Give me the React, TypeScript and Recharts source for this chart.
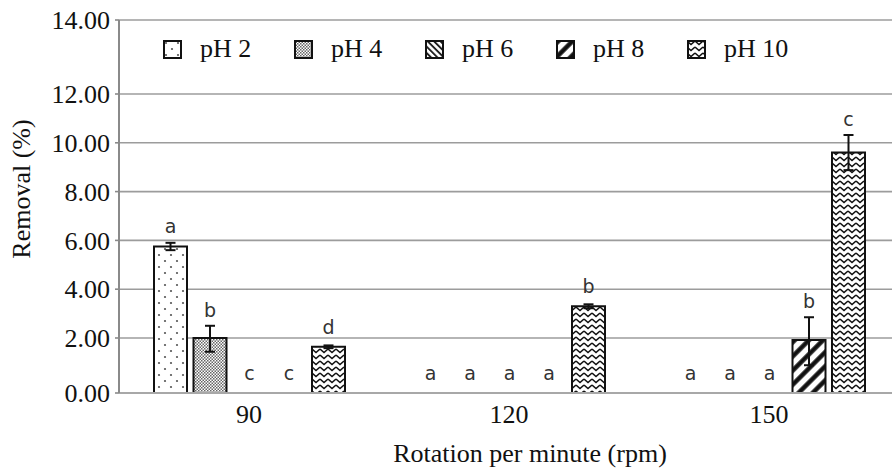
import React from 'react';
import { BarChart, Bar, XAxis, YAxis, CartesianGrid, ErrorBar, LabelList, Legend } from 'recharts';

// ---- data ----
const rpm = ['90', '120', '150'];
const ph2 = [5.75, 0, 0];
const ph2Sd = [0.15, 0, 0];
const ph2Letter = ['a', 'a', 'a'];
const ph4 = [2.0, 0, 0];
const ph4Sd = [0.5, 0, 0];
const ph4Letter = ['b', 'a', 'a'];
const ph6 = [0, 0, 0];
const ph6Sd = [0, 0, 0];
const ph6Letter = ['c', 'a', 'a'];
const ph8 = [0, 0, 1.93];
const ph8Sd = [0, 0, 0.92];
const ph8Letter = ['c', 'a', 'b'];
const ph10 = [1.68, 3.3, 9.6];
const ph10Sd = [0.05, 0.08, 0.72];
const ph10Letter = ['d', 'b', 'c'];
const yTicks = [0, 2, 4, 6, 8, 10, 12, 14];

// The reference's value axis is drawn with uneven spacing: 0-2 and 12-14 are stretched.
const yBreakValues = [0, 2, 12, 14];
const yBreakFractions = [0, 0.1475, 0.8016, 1];

const seriesNames = ['pH 2', 'pH 4', 'pH 6', 'pH 8', 'pH 10'];
const seriesValues = [ph2, ph4, ph6, ph8, ph10];
const seriesSds = [ph2Sd, ph4Sd, ph6Sd, ph8Sd, ph10Sd];
const seriesLetters = [ph2Letter, ph4Letter, ph6Letter, ph8Letter, ph10Letter];
const seriesPatterns = ['patDots', 'patStipple', 'patBack', 'patFwd', 'patZig'];

// Each series: a visible bar (mean) and, stacked on it, an invisible bar of height sd.
// The error bar hangs from the invisible bar's top (mean + sd) down to mean - sd.
const data = rpm.map((r, i) => {
  const row: Record<string, any> = { rpm: r };
  seriesNames.forEach((_, s) => {
    const sd = seriesSds[s][i];
    row[`v${s}`] = seriesValues[s][i];
    row[`sd${s}`] = sd;
    row[`err${s}`] = [2 * sd, 0];
    row[`l${s}`] = seriesLetters[s][i];
  });
  return row;
});

function brokenFraction(v: number): number {
  const n = yBreakValues.length;
  let i = 0;
  if (v >= yBreakValues[n - 1]) i = n - 2;
  else {
    while (i < n - 2 && v > yBreakValues[i + 1]) i++;
  }
  const v0 = yBreakValues[i], v1 = yBreakValues[i + 1];
  const f0 = yBreakFractions[i], f1 = yBreakFractions[i + 1];
  return f0 + ((v - v0) / (v1 - v0)) * (f1 - f0);
}

function makeBrokenScale(dom: number[] = [0, 14], rng: number[] = [0, 1]): any {
  let d = dom.slice();
  let r = rng.slice();
  const scale: any = (v: number) => r[0] + (r[1] - r[0]) * brokenFraction(Number(v));
  scale.domain = (x?: number[]) => {
    if (x === undefined) return d.slice();
    d = x.slice();
    return scale;
  };
  scale.range = (x?: number[]) => {
    if (x === undefined) return r.slice();
    r = x.slice();
    return scale;
  };
  scale.copy = () => makeBrokenScale(d, r);
  scale.ticks = () => yTicks.slice();
  scale.tickFormat = () => (v: number) => String(v);
  scale.nice = () => scale;
  scale.clamp = () => scale;
  scale.invert = (px: number) => {
    const f = (px - r[0]) / (r[1] - r[0]);
    const n = yBreakValues.length;
    for (let i = 0; i < n - 1; i++) {
      if (f <= yBreakFractions[i + 1] || i === n - 2) {
        const t = (f - yBreakFractions[i]) / (yBreakFractions[i + 1] - yBreakFractions[i]);
        return yBreakValues[i] + t * (yBreakValues[i + 1] - yBreakValues[i]);
      }
    }
    return 0;
  };
  return scale;
}

const yScale = makeBrokenScale();

const SERIF = '"Liberation Serif", "Times New Roman", serif';
const SANS = '"DejaVu Sans", Verdana, sans-serif';

function Patterns() {
  return (
    <defs>
      <pattern id="patDots" width="12" height="12" patternUnits="userSpaceOnUse">
        <rect width="12" height="12" fill="#fff" />
        <circle cx="3" cy="3" r="1.1" fill="#555" />
        <circle cx="9" cy="9" r="1.1" fill="#555" />
      </pattern>
      <pattern id="patStipple" width="3" height="3" patternUnits="userSpaceOnUse">
        <rect width="3" height="3" fill="#fff" />
        <rect x="0" y="0" width="1.5" height="1.5" fill="#666" />
        <rect x="1.5" y="1.5" width="1.5" height="1.5" fill="#666" />
      </pattern>
      <pattern id="patBack" width="4.5" height="4.5" patternUnits="userSpaceOnUse" patternTransform="rotate(-45)">
        <rect width="4.5" height="4.5" fill="#fff" />
        <line x1="1" y1="0" x2="1" y2="4.5" stroke="#111" strokeWidth="1.8" />
      </pattern>
      <pattern id="patFwd" width="10" height="10" patternUnits="userSpaceOnUse" patternTransform="rotate(45)">
        <rect width="10" height="10" fill="#fff" />
        <line x1="2.5" y1="0" x2="2.5" y2="10" stroke="#111" strokeWidth="4.5" />
      </pattern>
      <pattern id="patZig" width="8" height="6" patternUnits="userSpaceOnUse">
        <rect width="8" height="6" fill="#fff" />
        <path d="M0 1 L4 4.5 L8 1" fill="none" stroke="#111" strokeWidth="1.6" />
      </pattern>
    </defs>
  );
}

function LegendContent() {
  return (
    <div style={{ position: 'relative', height: 0, width: 0 }}>
      <div style={{ position: 'absolute', left: 163, top: 34, display: 'flex', whiteSpace: 'nowrap' }}>
        {seriesNames.map((name, s) => (
          <div key={name} style={{ width: 131, height: 30, display: 'flex', alignItems: 'center' }}>
            <svg width={19} height={19} style={{ display: 'block' }}>
              <rect x={1} y={1} width={17} height={17} fill={`url(#${seriesPatterns[s]})`} stroke="#111" strokeWidth={2} />
            </svg>
            <span style={{ marginLeft: 18, fontFamily: SERIF, fontSize: 26, color: '#111' }}>{name}</span>
          </div>
        ))}
      </div>
    </div>
  );
}

export default function App() {
  return (
    <div style={{ position: 'absolute', left: 0, top: 0, width: 892, height: 468, overflow: 'hidden', background: '#fff' }}>
      <BarChart
        width={899}
        height={468}
        data={data}
        margin={{ top: 20, right: 0, bottom: 0, left: 0 }}
        barSize={33}
        barGap={6.5}
      >
        <Patterns />
        <CartesianGrid vertical={false} stroke="#9c9c9c" strokeWidth={1.6} />
        <XAxis
          dataKey="rpm"
          height={75}
          axisLine={{ stroke: '#a8a8a8', strokeWidth: 2 }}
          tickLine={false}
          tickSize={6}
          tickMargin={6}
          tick={{ fill: '#111', fontFamily: SERIF, fontSize: 26 }}
          label={{
            content: (props: any) => {
              const vb = props.viewBox || { x: 119, y: 393, width: 780, height: 75 };
              return (
                <text x={vb.x + vb.width / 2 + 21} y={462} textAnchor="middle" style={{ fontFamily: SERIF, fontSize: 26 }} fill="#111">
                  Rotation per minute (rpm)
                </text>
              );
            },
          }}
        />
        <YAxis
          type="number"
          domain={[0, 14]}
          ticks={yTicks}
          scale={yScale}
          width={119}
          interval={0}
          axisLine={{ stroke: '#8a8a8a', strokeWidth: 2 }}
          tickLine={{ stroke: '#8a8a8a', strokeWidth: 1.6 }}
          tickSize={4}
          tickMargin={5}
          tickFormatter={(v: number) => v.toFixed(2)}
          tick={{ fill: '#111', fontFamily: SERIF, fontSize: 26 }}
          label={{
            content: () => (
              <text x={21} y={189} transform="rotate(-90 21 189)" textAnchor="middle" dominantBaseline="central" style={{ fontFamily: SERIF, fontSize: 26 }} fill="#111">
                Removal (%)
              </text>
            ),
          }}
        />
        <Legend content={<LegendContent />} wrapperStyle={{ left: 0, top: 0, width: 0, height: 0 }} />
        {seriesNames.map((name, s) => (
          <Bar
            key={`v${s}`}
            dataKey={`v${s}`}
            name={name}
            stackId={`st${s}`}
            fill={`url(#${seriesPatterns[s]})`}
            stroke="#111"
            strokeWidth={2}
            isAnimationActive={false}
          />
        ))}
        {seriesNames.map((name, s) => (
          <Bar
            key={`e${s}`}
            dataKey={`sd${s}`}
            name={`${name} sd`}
            stackId={`st${s}`}
            fill="none"
            stroke="none"
            legendType="none"
            minPointSize={4}
            isAnimationActive={false}
          >
            <ErrorBar dataKey={`err${s}`} width={5} stroke="#111" strokeWidth={2} direction="y" />
            <LabelList dataKey={`l${s}`} position="top" offset={9} fill="#333" fontFamily={SANS} fontSize={19} />
          </Bar>
        ))}
      </BarChart>
    </div>
  );
}
